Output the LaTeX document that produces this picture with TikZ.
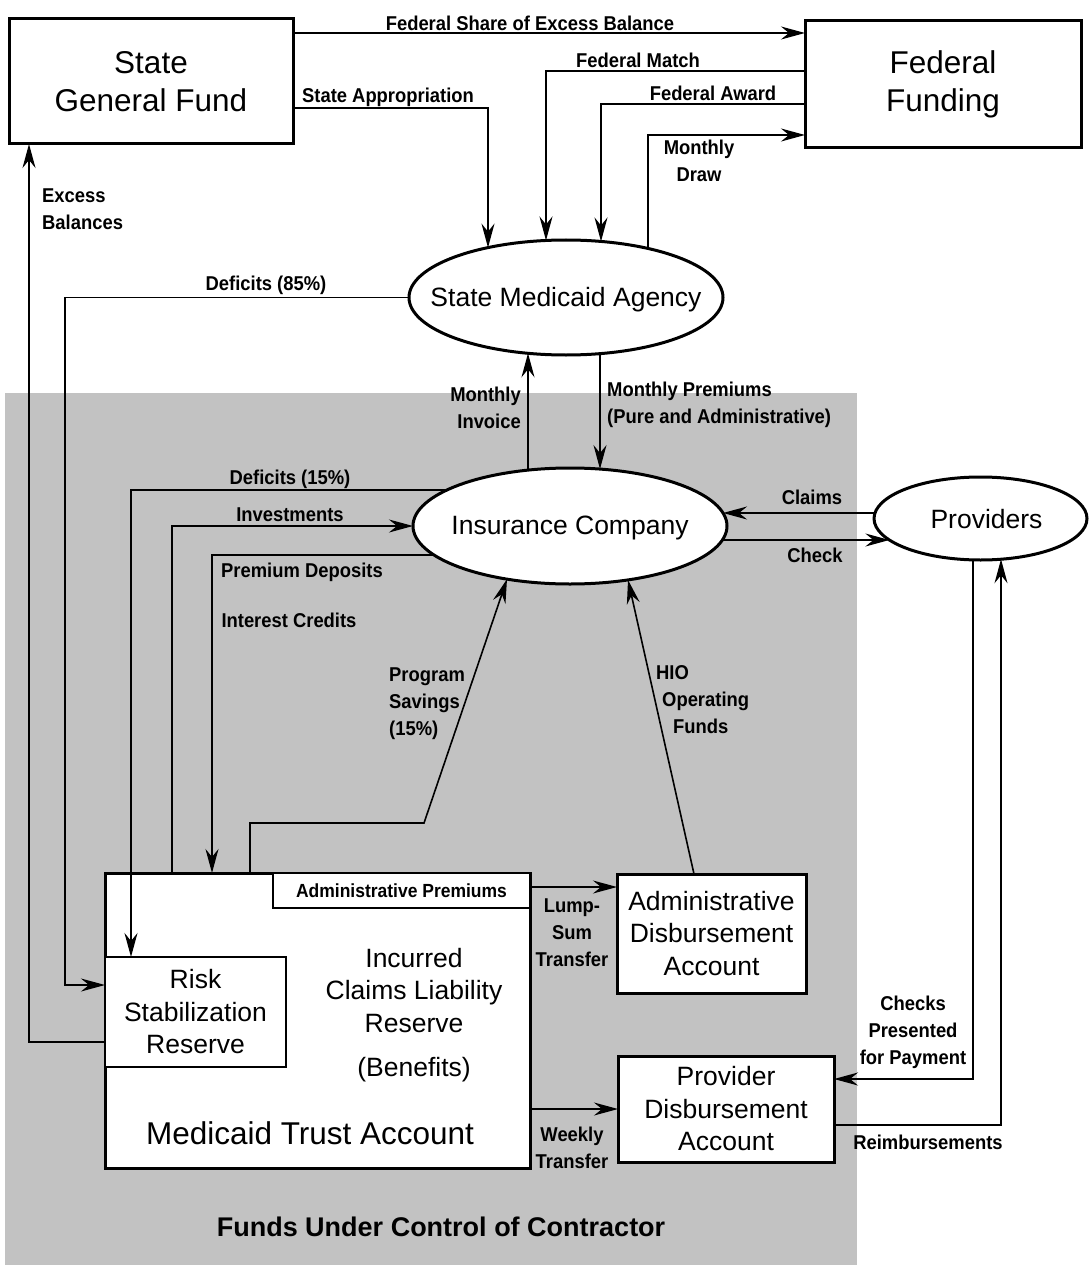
\documentclass[tikz,border=0pt]{standalone}
\usepackage{fontspec}
\setmainfont{Liberation Sans}
\newfontfamily\lblfont{Liberation Sans}[FakeStretch=0.92]
\usetikzlibrary{arrows.meta,shapes.geometric,calc}

\tikzset{
  bigtxt/.style={font=\fontsize{31.5}{38}\selectfont, align=center},
  midtxt/.style={font=\fontsize{26.5}{32.5}\selectfont, align=center},
  lbl/.style={font=\lblfont\bfseries\fontsize{20}{27}\selectfont, inner sep=0pt},
  box/.style={draw, line width=3pt, fill=white, inner sep=0pt, outer sep=0pt},
  ibox/.style={draw, line width=2.4pt, fill=white, inner sep=0pt, outer sep=0pt},
  oval/.style={ellipse, draw, line width=3pt, fill=white, inner sep=0pt, outer sep=0pt},
  flow/.style={line width=1.6pt, -{Stealth[length=24pt,width=13pt,inset=8pt]}},
}

\begin{document}
\begin{tikzpicture}[x=1pt, y=-1pt,
  declare function={
    smaT(\x)=297.5-57.5*sqrt(1-((\x-566)/157)^2);
    smaB(\x)=297.5+57.5*sqrt(1-((\x-566)/157)^2);
    icT(\x)=526-58*sqrt(1-((\x-570)/157)^2);
    icB(\x)=526+58*sqrt(1-((\x-570)/157)^2);
    icL(\y)=570-157*sqrt(1-((\y-526)/58)^2);
    icR(\y)=570+157*sqrt(1-((\y-526)/58)^2);
    prL(\y)=980.5-106.5*sqrt(1-((\y-518.5)/41.5)^2);
    prB(\x)=518.5+41.5*sqrt(1-((\x-980.5)/106.5)^2);
  }]
\useasboundingbox (0,0) rectangle (1091,1265);
\fill[white] (0,0) rectangle (1091,1265);

% contractor-controlled area
\fill[black!24] (5,393) rectangle (857,1265);

% ---- nodes ----
\node[box, bigtxt, minimum width=284pt, minimum height=125pt] (sgf) at (151,81.5) {State\\General Fund};
\node[box, bigtxt, minimum width=276pt, minimum height=127pt] (fed) at (943,84.5) {Federal\\Funding};
\node[oval, minimum width=314pt, minimum height=115pt,
      label={[midtxt, yshift=-2pt]center:State Medicaid Agency}] (sma) at (566,297.5) {};
\node[oval, minimum width=314pt, minimum height=116pt,
      label={[midtxt, yshift=-2pt]center:Insurance Company}] (ic) at (570,526) {};
\node[oval, minimum width=213pt, minimum height=83pt,
      label={[midtxt, xshift=6pt, yshift=-1pt]center:Providers}] (prov) at (980.5,518.5) {};

\node[box, minimum width=425pt, minimum height=295pt] (trust) at (317.5,1020.5) {};
\node[ibox, lbl, font=\lblfont\bfseries\fontsize{19}{24}\selectfont, minimum width=257pt, minimum height=35pt] (admprem) at (401.5,890.5) {Administrative Premiums};
\node[ibox, midtxt, minimum width=181pt, minimum height=110pt] (risk) at (195.5,1012) {Risk\\Stabilization\\Reserve};
\node[midtxt] (icl) at (414,990.5) {Incurred\\Claims Liability\\Reserve};
\node[midtxt] (ben) at (414,1070) {(Benefits)};
\node[bigtxt] (mta) at (310,1133) {Medicaid Trust Account};

\node[box, midtxt, minimum width=189pt, minimum height=119pt] (adm) at (711.5,933.5) {Administrative\\Disbursement\\Account};
\node[box, midtxt, minimum width=216pt, minimum height=106pt] (pdis) at (726,1109) {Provider\\Disbursement\\Account};

% ---- connectors ----
\draw[flow] (sgf.east |- 0,33) -- (fed.west |- 0,33);
\draw[flow] (sgf.east |- 0,108) -| (488,{smaT(488)});
\draw[flow] (fed.west |- 0,71) -| (546,{smaT(546)});
\draw[flow] (fed.west |- 0,104) -| (601,{smaT(601)});
\draw[flow] (648,{smaT(648)}) |- (fed.west |- 0,135);
\draw[flow] (risk.west |- 0,1042) -| (sgf.south -| 29,0);
\draw[flow] (sma.west) -| (65,985) -- (risk.west |- 0,985);
\draw[flow] (528,{icT(528)}) -- (528,{smaB(528)});
\draw[flow] (600,{smaB(600)}) -- (600,{icT(600)});
\draw[flow] ({icL(490)},490) -| (risk.north -| 131,0);
\draw[flow] (trust.north -| 172,0) |- (ic.west);
\draw[flow] ({icL(555)},555) -| (trust.north -| 212,0);
\draw[flow] (trust.north -| 250,0) |- (424,823) -- (507,{icB(507)});
\draw[flow] (adm.north -| 694,0) -- (628,{icB(628)});
\draw[flow] ({prL(513)},513) -- ({icR(513)},513);
\draw[flow] ({icR(540)},540) -- ({prL(540)},540);
\draw[flow] (trust.east |- 0,887) -- (adm.west |- 0,887);
\draw[flow] (trust.east |- 0,1109) -- (pdis.west |- 0,1109);
\draw[flow] (973,{prB(973)}) |- (pdis.east |- 0,1079);
\draw[flow] (pdis.east |- 0,1125) -| (1001,{prB(1001)});

% ---- connector labels ----
\node[lbl] (t-fs) at (530,23) {Federal Share of Excess Balance};
\node[lbl] (t-sa) at (388,97) {State Appropriation};
\node[lbl] (t-fm) at (638,60) {Federal Match};
\node[lbl] (t-fa) at (713,93) {Federal Award};
\node[lbl, align=center] (t-md) at (699,161) {Monthly\\Draw};
\node[lbl, align=left, anchor=west] (t-eb) at (42,209) {Excess\\Balances};
\node[lbl] (t-d85) at (266,285) {Deficits (85\%)};
\node[lbl, align=right, anchor=east] (t-mi) at (521,408) {Monthly\\Invoice};
\node[lbl, align=left, anchor=west] (t-mp) at (607,405) {Monthly Premiums\\(Pure and Administrative)};
\node[lbl] (t-d15) at (290,479) {Deficits (15\%)};
\node[lbl] (t-inv) at (290,515) {Investments};
\node[lbl] (t-pd) at (302,572) {Premium Deposits};
\node[lbl] (t-ic) at (289,620) {Interest Credits};
\node[lbl] (t-cl) at (812,497) {Claims};
\node[lbl] (t-ch) at (815,555) {Check};
\node[lbl, align=left, anchor=west] (t-ps) at (389,704) {Program\\Savings\\(15\%)};
\node[lbl, align=left, anchor=west] (t-hio) at (656,700) {HIO\\\hspace*{6pt}Operating\\\hspace*{17pt}Funds};
\node[lbl, align=center] (t-ls) at (572,933) {Lump-\\Sum\\Transfer};
\node[lbl, align=center] (t-wt) at (572,1148) {Weekly\\Transfer};
\node[lbl, align=center] (t-cp) at (913,1032) {Checks\\Presented\\for Payment};
\node[lbl] (t-rb) at (928,1142) {Reimbursements};

\node[font=\bfseries\fontsize{27}{32}\selectfont] (fucc) at (441,1227) {Funds Under Control of Contractor};
\end{tikzpicture}
\end{document}
